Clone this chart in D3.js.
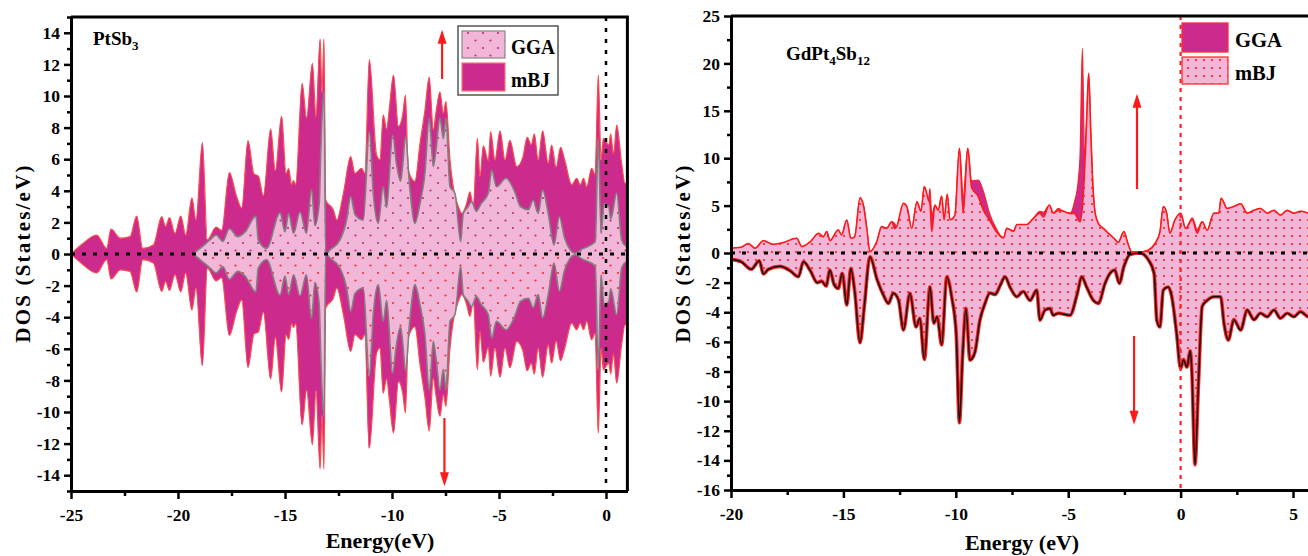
<!DOCTYPE html>
<html>
<head>
<meta charset="utf-8">
<script src="https://cdn.jsdelivr.net/npm/d3@7"></script>
<style>
body { margin: 0; background: #fff; }
text { font-family: "Liberation Serif", "Times New Roman", serif; font-weight: bold; fill: #000; }
</style>
</head>
<body>
<svg width="1308" height="556"></svg>
<script>
// ---------- PtSb3 (left) : spin up, spin down is the mirror ----------
var ptMbjE = [-25,-24.5,-23.8,-23.33,-23.13,-22.7,-22.24,-21.93,-21.65,-21.15,-20.76,-20.58,-20.4,-20.14,-19.87,-19.64,-19.35,-19.16,-18.86,-18.63,-18.22,-17.96,-17.6,-17.26,-17.02,-16.73,-16.45,-16.25,-16.01,-15.67,-15.45,-15.16,-14.95,-14.83,-14.69,-14.61,-14.5,-14.2,-13.99,-13.72,-13.55,-13.36,-13.27,-13.18,-13.1,-12.74,-12.58,-12.27,-11.93,-11.73,-11.42,-11.27,-11.06,-10.72,-10.56,-10.41,-10.25,-10.12,-9.93,-9.7,-9.5,-9.37,-9.24,-8.93,-8.69,-8.46,-8.26,-8.07,-7.95,-7.76,-7.6,-7.48,-7.29,-7.14,-6.9,-6.74,-6.51,-6.36,-6.2,-6.01,-5.89,-5.73,-5.5,-5.39,-5.19,-4.95,-4.72,-4.49,-4.17,-3.89,-3.68,-3.49,-3.35,-3.17,-2.96,-2.7,-2.54,-2.33,-2.12,-1.93,-1.6,-1.37,-1.2,-1.05,-0.9,-0.67,-0.51,-0.36,-0.23,-0.12,0.13,0.22,0.35,0.5,0.73,0.89,1.0];
var ptMbjV = [0,0.6,1.2,0.36,1.58,1.0,1.1,2.4,0.36,0.57,2.36,1.73,2.3,1.3,2.4,1.2,3.55,2.15,7.05,0.9,1.7,1.5,5.15,3.63,2.9,7.17,5.06,4.94,3.67,7.9,5.27,8.73,5.1,5.4,4.37,4.64,4.4,10.8,8.6,12.07,8.65,13.6,10.2,13.6,3.42,2.78,2.15,3.84,6.16,5.1,5.42,5.1,12.3,6.27,5.95,8.8,7.9,9.28,11.33,8.06,8.8,10.06,5.3,4.6,7.0,9.1,11.2,7.85,8.9,10.27,8.9,9.64,5.95,4.26,3.0,2.57,3.2,3.94,3.0,7.32,4.9,6.84,5.9,7.74,5.95,7.8,5.95,7.2,5.53,6.1,7.39,6.9,7.6,5.95,7.8,5.74,6.9,5.5,6.75,5.95,4.37,4.79,4.37,4.79,4.25,5.42,5.0,11.33,5.95,7.32,6.9,7.6,6.3,8.16,5.74,4.47,4.5];
var ptGgaE = [-19.3,-18.97,-18.5,-18.22,-17.9,-17.6,-17.2,-16.87,-16.36,-16.25,-15.86,-15.23,-15.0,-14.83,-14.6,-14.3,-14.0,-13.76,-13.6,-13.4,-13.33,-13.18,-13.1,-12.9,-12.43,-12.12,-11.93,-11.73,-11.34,-11.06,-10.87,-10.64,-10.41,-10.25,-9.97,-9.79,-9.6,-9.5,-9.37,-9.17,-8.93,-8.69,-8.46,-8.26,-8.07,-7.95,-7.76,-7.6,-7.48,-7.29,-7.06,-6.79,-6.67,-6.46,-6.28,-6.06,-5.83,-5.5,-5.34,-5.12,-4.67,-4.24,-4.0,-3.63,-3.4,-3.17,-2.96,-2.7,-2.43,-2.18,-1.93,-1.45,-1.14,-0.5,-0.36,-0.23,-0.09,0.13,0.22,0.5,0.73,0.89,1.0];
var ptGgaV = [0,0.36,0.89,1.2,0.8,1.6,1.1,1.39,2.4,0.9,0.36,2.6,1.4,2.57,1.31,2.66,1.31,4.1,1.8,3.2,6.37,10.27,0,0.25,0.89,2.15,3.63,2.5,2.15,7.74,3.73,1.94,4.26,2.95,7.53,5.7,4.6,5.6,7.42,4.2,1.94,3.2,5.1,8.6,5.53,6.5,8.6,7.3,8.6,4.26,3.85,0.78,2.57,2.95,3.31,2.7,3.2,3.85,5.32,4.26,4.79,3.85,3.0,2.8,3.4,2.57,4.05,2.57,0.57,2.36,1.0,0.05,0.3,0.78,7.32,1.31,3.2,3.0,2.2,3.85,0.89,0.55,0.5];
var ptXTicks = [-25,-20,-15,-10,-5,0];
var ptYTicks = [-14,-12,-10,-8,-6,-4,-2,0,2,4,6,8,10,12,14];

// ---------- GdPt4Sb12 (right) ----------
var gdUpE = [-20,-19.55,-19.23,-18.93,-18.56,-18.12,-17.67,-17.08,-16.85,-16.47,-16.1,-15.9,-15.74,-15.6,-15.23,-15.08,-14.85,-14.67,-14.5,-14.26,-14.1,-13.95,-13.82,-13.5,-13.3,-13.08,-12.85,-12.72,-12.63,-12.33,-12.18,-11.96,-11.73,-11.55,-11.4,-11.22,-11.15,-11.07,-10.93,-10.78,-10.63,-10.52,-10.38,-10.26,-10.04,-9.84,-9.67,-9.47,-9.3,-9.0,-8.77,-8.5,-8.25,-7.88,-7.73,-7.43,-7.28,-6.85,-6.55,-6.26,-6.1,-5.84,-5.67,-5.44,-5.22,-4.92,-4.72,-4.55,-4.47,-4.37,-4.27,-4.18,-4.09,-4.0,-3.9,-3.8,-3.66,-3.44,-3.22,-2.93,-2.78,-2.52,-2.36,-2.18,-1.81,-1.44,-1.14,-0.92,-0.77,-0.62,-0.48,-0.25,0,0.22,0.52,0.74,0.96,1.18,1.48,1.7,1.8,2.07,2.37,2.67,2.96,3.26,3.55,3.85,4.15,4.44,4.74,5.04,5.33,5.69,6.0];
var gdMbjUp = [0.5,0.6,1.0,0.5,1.3,0.9,1.1,1.55,0.67,1.2,2.07,1.7,2.25,1.3,2.43,1.9,3.48,1.55,1.7,5.77,4.9,2.4,0.14,1.3,2.78,2.6,3.3,2.6,2.8,5.24,4.9,2.6,5.4,4.4,7.0,5.6,5.2,2.25,5.06,4.5,6.0,3.5,6.2,3.5,4.0,11.04,4.2,11.04,7.0,5.94,4.5,3.48,2.43,1.6,2.6,2.3,3.0,3.0,3.66,4.2,3.8,5.06,4.2,4.5,4.4,4.18,4.18,3.48,3.3,4.9,8.75,14.0,18.95,13.0,7.0,4.18,3.13,2.6,2.1,1.47,1.1,2.25,1.1,0.14,0.1,0.3,1.0,2.2,4.9,4.2,2.1,3.5,4.2,2.6,3.5,2.1,3.3,2.4,4.2,4.2,5.77,4.7,4.9,5.2,4.2,4.5,4.7,4.2,4.5,4.0,4.5,4.2,4.4,4.2,4.0];
var gdGgaUp = [0.5,0.6,1.0,0.5,1.3,0.9,1.1,1.55,0.67,1.2,2.07,1.7,2.25,1.3,2.43,1.9,3.48,1.55,1.7,5.85,5.0,2.4,0.14,1.3,2.78,2.6,3.3,3.1,2.8,5.24,4.9,2.6,5.4,4.4,7.0,5.6,6.8,4.0,5.06,4.5,6.0,3.5,6.2,3.5,4.0,11.04,6.0,11.04,7.6,7.7,6.47,4.18,2.78,1.6,2.6,2.3,3.0,3.0,3.66,4.4,4.3,5.06,4.2,4.7,4.4,4.18,5.4,7.7,10.5,21.6,9.8,14.0,18.95,13.0,7.0,4.18,3.13,2.6,2.1,1.47,1.1,2.25,1.1,0.14,0.1,0.3,1.0,2.2,4.9,4.2,2.1,3.5,4.2,2.6,3.7,2.5,3.3,2.4,4.2,4.2,5.77,4.7,4.9,5.2,4.2,4.5,4.7,4.2,4.5,4.0,4.5,4.2,4.4,4.2,4.0];
var gdDnE = [-20,-19.55,-19.1,-18.74,-18.56,-18.34,-17.82,-17.37,-17.0,-16.78,-16.47,-16.16,-15.97,-15.77,-15.6,-15.42,-15.23,-15.05,-14.85,-14.67,-14.5,-14.26,-14.07,-13.82,-13.5,-13.22,-13.0,-12.78,-12.55,-12.33,-12.04,-11.77,-11.6,-11.4,-11.15,-10.98,-10.83,-10.63,-10.4,-10.18,-9.98,-9.84,-9.7,-9.55,-9.37,-9.15,-8.93,-8.7,-8.48,-8.25,-8.03,-7.81,-7.59,-7.29,-7.0,-6.7,-6.4,-6.26,-6.03,-5.81,-5.67,-5.44,-4.92,-4.59,-4.4,-4.18,-3.88,-3.66,-3.36,-3.14,-2.93,-2.73,-2.52,-2.25,-1.81,-1.44,-1.18,-1.06,-0.92,-0.77,-0.55,-0.4,-0.18,0,0.13,0.28,0.43,0.5,0.64,0.79,0.96,1.18,1.48,1.78,1.93,2.12,2.37,2.67,2.96,3.26,3.55,3.85,4.15,4.44,4.74,5.04,5.33,5.69,6.0];
var gdDnV = [-0.43,-0.59,-1.1,-0.52,-1.42,-1.1,-0.9,-1.2,-1.6,-0.59,-1.2,-2.0,-1.9,-2.23,-1.15,-2.1,-2.39,-1.37,-3.51,-1.04,-2.55,-6.06,-3.6,-0.25,-1.8,-2.84,-3.4,-2.72,-3.17,-5.2,-2.72,-5.0,-4.4,-7.18,-2.28,-4.74,-4.3,-6.2,-1.6,-3.0,-5.5,-11.46,-7.0,-3.74,-7.23,-6.7,-4.55,-3.4,-2.7,-2.8,-2.2,-1.6,-2.3,-2.95,-2.6,-3.2,-2.5,-4.53,-3.85,-3.74,-4.2,-4.07,-4.2,-2.7,-1.6,-2.3,-3.2,-3.4,-2.05,-1.37,-1.15,-2.05,-0.9,-0.1,0,-0.45,-1.37,-4.53,-5.0,-2.5,-2.3,-2.9,-5.4,-7.8,-7.2,-7.7,-6.6,-8.0,-14.3,-9.0,-3.6,-3.2,-2.95,-2.95,-4.75,-5.88,-4.5,-5.2,-3.85,-4.5,-4.07,-4.3,-3.85,-4.4,-4.07,-4.3,-3.96,-4.3,-4.2];
var gdXTicks = [-20,-15,-10,-5,0,5];
var gdYTicks = [-16,-14,-12,-10,-8,-6,-4,-2,0,5,10,15,20,25];

var svg = d3.select("svg");

var MAG = "#CC2A8C", PINK = "#F2B6D8";

// patterns
var defs = svg.append("defs");
function dotPattern(id, size, dot, pts) {
    var p = defs.append("pattern").attr("id", id)
        .attr("patternUnits", "userSpaceOnUse")
        .attr("width", size).attr("height", size);
    p.append("rect").attr("width", size).attr("height", size).attr("fill", PINK);
    pts.forEach(function(c) {
        p.append("circle").attr("cx", c[0]).attr("cy", c[1]).attr("r", 1.1).attr("fill", dot);
    });
}
dotPattern("dotMag", 15, "#C02A88", [[3, 3], [10.5, 10.5]]);
dotPattern("dotRedL", 15, "#FF2A2A", [[3, 3], [10.5, 10.5]]);
dotPattern("dotRed", 8, "#FF2020", [[4, 4]]);

function zip(e, v) { return e.map(function(d, i) { return [d, v[i]]; }); }

// ================= LEFT PANEL =================
var xL = d3.scaleLinear().domain([-25, 1]).range([71, 627.4]);
var yL = d3.scaleLinear().domain([-15, 15]).range([491, 17]);

svg.append("clipPath").attr("id", "clipL").append("rect")
    .attr("x", 71).attr("y", 17).attr("width", 556).attr("height", 474);

var gL = svg.append("g").attr("clip-path", "url(#clipL)");

function drawPair(g, x, y, pts, sign, fill, stroke, sw) {
    var area = d3.area().curve(d3.curveMonotoneX)
        .x(function(d) { return x(d[0]); })
        .y0(y(0))
        .y1(function(d) { return y(sign * d[1]); });
    var line = d3.line().curve(d3.curveMonotoneX)
        .x(function(d) { return x(d[0]); })
        .y(function(d) { return y(sign * d[1]); });
    g.append("path").datum(pts).attr("d", area).attr("fill", fill);
    g.append("path").datum(pts).attr("d", line).attr("fill", "none")
        .attr("stroke", stroke).attr("stroke-width", sw).attr("stroke-linejoin", "round");
}

var ptMbj = zip(ptMbjE, ptMbjV), ptGga = zip(ptGgaE, ptGgaV);
drawPair(gL, xL, yL, ptMbj, 1, MAG, "#FF4A4A", 1.2);
drawPair(gL, xL, yL, ptMbj, -1, MAG, "#FF4A4A", 1.2);
drawPair(gL, xL, yL, ptGga, 1, "url(#dotMag)", "#808080", 1.6);
drawPair(gL, xL, yL, ptGga, -1, "url(#dotRedL)", "#808080", 1.6);

gL.append("line").attr("x1", xL(-25)).attr("x2", xL(1)).attr("y1", yL(0)).attr("y2", yL(0))
    .attr("stroke", "#000").attr("stroke-width", 3).attr("stroke-dasharray", "4,7");
gL.append("line").attr("x1", xL(0)).attr("x2", xL(0)).attr("y1", yL(15)).attr("y2", yL(-15))
    .attr("stroke", "#000").attr("stroke-width", 2.5).attr("stroke-dasharray", "4,7");

// axes left panel
function styleAxis(g) {
    g.select(".domain").attr("stroke-width", 3);
    g.selectAll(".tick line").attr("stroke-width", 2.5);
    g.selectAll("text").attr("font-size", 17.5).attr("font-family", "Liberation Serif").attr("font-weight", "bold");
}
var fmt = function(d) { return String(d); };

svg.append("g").attr("transform", "translate(0," + yL(-15) + ")")
    .call(d3.axisBottom(xL).tickValues([-22.5, -17.5, -12.5, -7.5, -2.5]).tickSize(5).tickSizeOuter(0).tickFormat(""))
    .call(styleAxis);
svg.append("g").attr("transform", "translate(0," + yL(-15) + ")")
    .call(d3.axisBottom(xL).tickValues(ptXTicks).tickSize(8).tickSizeOuter(0).tickFormat(fmt).tickPadding(10))
    .call(styleAxis);
svg.append("g").attr("transform", "translate(" + xL(-25) + ",0)")
    .call(d3.axisLeft(yL).tickValues(d3.range(-15, 16, 2)).tickSize(4).tickSizeOuter(0).tickFormat(""))
    .call(styleAxis);
svg.append("g").attr("transform", "translate(" + xL(-25) + ",0)")
    .call(d3.axisLeft(yL).tickValues(ptYTicks).tickSize(7).tickSizeOuter(0).tickFormat(fmt).tickPadding(4))
    .call(styleAxis);
svg.append("path").attr("d", "M" + xL(-25) + "," + yL(15) + "H" + xL(1) + "V" + yL(-15))
    .attr("fill", "none").attr("stroke", "#000").attr("stroke-width", 3);

// arrows
function arrow(x, y1, y2) {
    var dir = y2 < y1 ? -1 : 1;
    svg.append("line").attr("x1", x).attr("x2", x).attr("y1", y1).attr("y2", y2 - dir * 12)
        .attr("stroke", "#FF1A1A").attr("stroke-width", 2.2);
    svg.append("path").attr("d", "M" + (x - 4.5) + "," + (y2 - dir * 14) + "L" + x + "," + y2 + "L" + (x + 4.5) + "," + (y2 - dir * 14) + "Z")
        .attr("fill", "#FF1A1A");
}
arrow(xL(-7.66), yL(11.08), yL(14.2));
arrow(xL(-7.55), yL(-10.38), yL(-14.7));

// legend left
var lgL = svg.append("g");
lgL.append("rect").attr("x", 458).attr("y", 26).attr("width", 100).attr("height", 69)
    .attr("fill", "#fff").attr("stroke", "#555").attr("stroke-width", 1.5);
lgL.append("rect").attr("x", 462).attr("y", 31).attr("width", 43).attr("height", 27)
    .attr("fill", "url(#dotMag)").attr("stroke", "#888").attr("stroke-width", 1.2);
lgL.append("rect").attr("x", 462).attr("y", 63).attr("width", 43).attr("height", 28)
    .attr("fill", MAG).attr("stroke", "#FF7070").attr("stroke-width", 1.2);
lgL.append("text").attr("x", 511).attr("y", 54).attr("font-size", 22)
    .attr("textLength", 44).attr("lengthAdjust", "spacingAndGlyphs").text("GGA");
lgL.append("text").attr("x", 511).attr("y", 87).attr("font-size", 22)
    .attr("textLength", 39).attr("lengthAdjust", "spacingAndGlyphs").text("mBJ");

// title left
var tL = svg.append("text").attr("x", 93).attr("y", 45).attr("font-size", 19);
tL.append("tspan").text("PtSb");
tL.append("tspan").attr("font-size", 13).attr("dy", 5).text("3");

// axis labels left
svg.append("text").attr("transform", "translate(30,253) rotate(-90)")
    .attr("text-anchor", "middle").attr("font-size", 21).attr("letter-spacing", 2.2)
    .text("DOS (States/eV)");
svg.append("text").attr("x", 380).attr("y", 548).attr("text-anchor", "middle")
    .attr("font-size", 22).text("Energy(eV)");

// ================= RIGHT PANEL =================
var xR = d3.scaleLinear().domain([-20, 6]).range([731, 1315.5]);
var yR = d3.scaleLinear().domain([-16, 0, 25]).range([490, 253, 16]);

svg.append("clipPath").attr("id", "clipR").append("rect")
    .attr("x", 731).attr("y", 16).attr("width", 585).attr("height", 474);
var gR = svg.append("g").attr("clip-path", "url(#clipR)");

var gdGga = zip(gdUpE, gdGgaUp), gdMbj = zip(gdUpE, gdMbjUp), gdDn = zip(gdDnE, gdDnV);
drawPair(gR, xR, yR, gdGga, 1, MAG, "#FF2020", 1.2);
drawPair(gR, xR, yR, gdMbj, 1, "url(#dotRed)", "#FF1A1A", 1.6);
// spin down: mBJ (pink, red edge) with GGA as the black line on top
drawPair(gR, xR, yR, gdDn, 1, "url(#dotRed)", "#FF2020", 3.6);
gR.append("path").datum(gdDn)
    .attr("d", d3.line().curve(d3.curveMonotoneX)
        .x(function(d) { return xR(d[0]); })
        .y(function(d) { return yR(d[1]); }))
    .attr("fill", "none").attr("stroke", "#111").attr("stroke-width", 1.5);

gR.append("line").attr("x1", xR(-20)).attr("x2", xR(6)).attr("y1", yR(0)).attr("y2", yR(0))
    .attr("stroke", "#000").attr("stroke-width", 3).attr("stroke-dasharray", "4,7");
gR.append("line").attr("x1", xR(0)).attr("x2", xR(0)).attr("y1", yR(25)).attr("y2", yR(-16))
    .attr("stroke", "#FF2020").attr("stroke-width", 2.2).attr("stroke-dasharray", "4,5");

svg.append("g").attr("transform", "translate(0," + yR(-16) + ")")
    .call(d3.axisBottom(xR).tickValues([-17.5, -12.5, -7.5, -2.5, 2.5]).tickSize(5).tickSizeOuter(0).tickFormat(""))
    .call(styleAxis);
svg.append("g").attr("transform", "translate(0," + yR(-16) + ")")
    .call(d3.axisBottom(xR).tickValues(gdXTicks).tickSize(8).tickSizeOuter(0).tickFormat(fmt).tickPadding(10))
    .call(styleAxis);
svg.append("g").attr("transform", "translate(" + xR(-20) + ",0)")
    .call(d3.axisLeft(yR).tickValues([-15, -13, -11, -9, -7, -5, -3, -1, 2.5, 7.5, 12.5, 17.5, 22.5]).tickSize(4).tickSizeOuter(0).tickFormat(""))
    .call(styleAxis);
svg.append("g").attr("transform", "translate(" + xR(-20) + ",0)")
    .call(d3.axisLeft(yR).tickValues(gdYTicks).tickSize(7).tickSizeOuter(0).tickFormat(fmt).tickPadding(4))
    .call(styleAxis);
svg.append("path").attr("d", "M" + xR(-20) + "," + yR(25) + "H" + xR(6) + "V" + yR(-16))
    .attr("fill", "none").attr("stroke", "#000").attr("stroke-width", 3);

arrow(xR(-1.94), yR(6.75), yR(16.8));
arrow(xR(-2.07), yR(-5.6), yR(-11.6));

// legend right
var lgR = svg.append("g");
lgR.append("rect").attr("x", 1182).attr("y", 23).attr("width", 46).attr("height", 29)
    .attr("fill", MAG).attr("stroke", "#FF3030").attr("stroke-width", 1.3);
lgR.append("rect").attr("x", 1182).attr("y", 57).attr("width", 46).attr("height", 27)
    .attr("fill", "url(#dotRed)").attr("stroke", "#FF3030").attr("stroke-width", 1.3);
lgR.append("text").attr("x", 1235).attr("y", 47).attr("font-size", 22)
    .attr("textLength", 47).attr("lengthAdjust", "spacingAndGlyphs").text("GGA");
lgR.append("text").attr("x", 1235).attr("y", 80).attr("font-size", 22)
    .attr("textLength", 41).attr("lengthAdjust", "spacingAndGlyphs").text("mBJ");

var tR = svg.append("text").attr("x", 786).attr("y", 60).attr("font-size", 19);
tR.append("tspan").text("GdPt");
tR.append("tspan").attr("font-size", 13).attr("dy", 5).text("4");
tR.append("tspan").attr("dy", -5).text("Sb");
tR.append("tspan").attr("font-size", 13).attr("dy", 5).text("12");

svg.append("text").attr("transform", "translate(690,253) rotate(-90)")
    .attr("text-anchor", "middle").attr("font-size", 21).attr("letter-spacing", 2.2)
    .text("DOS (States/eV)");
svg.append("text").attr("x", 1022).attr("y", 550).attr("text-anchor", "middle")
    .attr("font-size", 22).text("Energy (eV)");
</script>
</body>
</html>
